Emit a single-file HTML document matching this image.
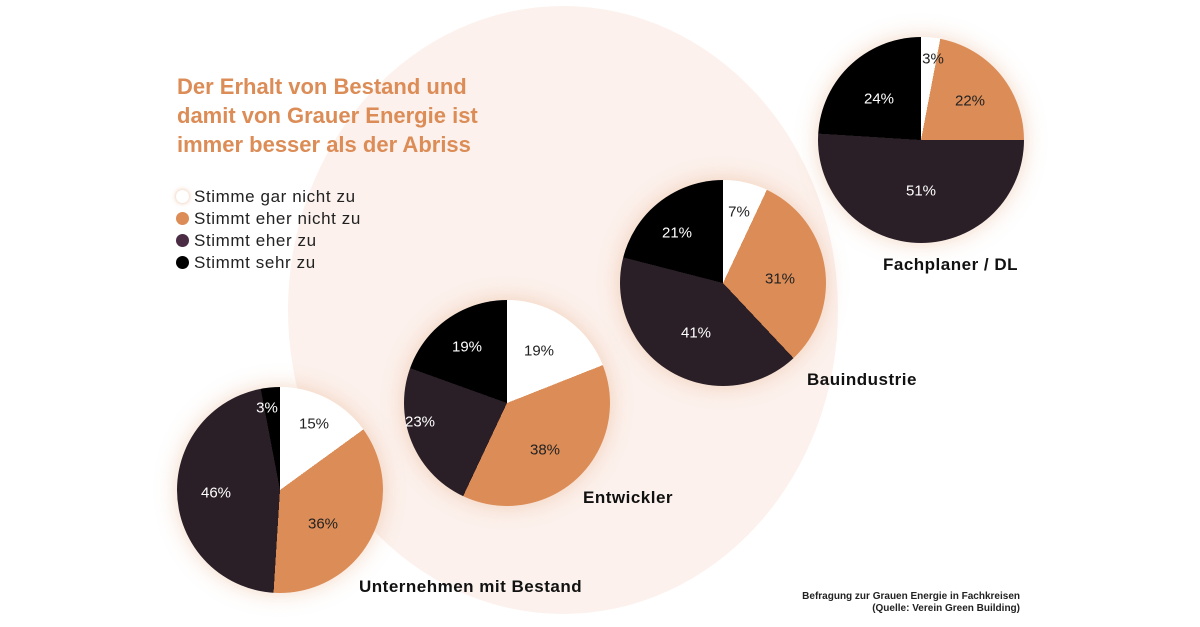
<!DOCTYPE html>
<html><head><meta charset="utf-8"><style>
body{margin:0;width:1200px;height:627px;background:#fff;position:relative;overflow:hidden;font-family:"Liberation Sans",sans-serif}
.bg{position:absolute;left:288px;top:6px;width:550px;height:608px;border-radius:50%;background:#fcf1ec}
.pie{position:absolute;width:206px;height:206px;border-radius:50%;box-shadow:0 0 22px rgba(220,140,86,.35)}
.l{position:absolute;font-size:15px;transform:translate(-50%,-50%);white-space:nowrap}
.w{color:#fff}.d{color:#222}
.t{position:absolute;font-weight:bold;font-size:17px;letter-spacing:.5px;color:#111;transform:translateY(-50%);white-space:nowrap}
h1{position:absolute;left:177px;top:72px;margin:0;font-size:22px;line-height:29px;color:#dc8c56;font-weight:bold}
.lg{position:absolute;left:176px;font-size:17px;letter-spacing:.6px;color:#222;transform:translateY(-50%)}
.lg i{display:inline-block;width:13px;height:13px;border-radius:50%;margin-right:5px;vertical-align:-1px}
.src{position:absolute;right:180px;top:591px;font-size:10px;font-weight:bold;text-align:right;line-height:12px;color:#222}
</style></head><body>
<div class="bg"></div>
<h1>Der Erhalt von Bestand und<br>damit von Grauer Energie ist<br>immer besser als der Abriss</h1>
<div class="lg" style="top:197px"><i style="background:#fff;box-shadow:0 0 5px rgba(220,140,86,.6)"></i>Stimme gar nicht zu</div>
<div class="lg" style="top:219px"><i style="background:#dc8c56"></i>Stimmt eher nicht zu</div>
<div class="lg" style="top:241px"><i style="background:#4a2c44"></i>Stimmt eher zu</div>
<div class="lg" style="top:263px"><i style="background:#000"></i>Stimmt sehr zu</div>

<div class="pie" style="left:177px;top:387px;background:conic-gradient(#fff 0 15%,#dc8c56 15% 51%,#2a1f26 51% 97%,#000 97% 100%)"></div>
<div class="pie" style="left:404px;top:300px;background:conic-gradient(#fff 0 19%,#dc8c56 19% 57%,#2a1f26 57% 80.5%,#000 80.5% 100%)"></div>
<div class="pie" style="left:620px;top:180px;background:conic-gradient(#fff 0 7%,#dc8c56 7% 38%,#2a1f26 38% 79%,#000 79% 100%)"></div>
<div class="pie" style="left:818px;top:37px;background:conic-gradient(#fff 0 3%,#dc8c56 3% 25%,#2a1f26 25% 76%,#000 76% 100%)"></div>

<div class="l d" style="left:314px;top:424px">15%</div>
<div class="l d" style="left:323px;top:524px">36%</div>
<div class="l w" style="left:216px;top:493px">46%</div>
<div class="l w" style="left:267px;top:408px">3%</div>
<div class="l d" style="left:539px;top:351px">19%</div>
<div class="l d" style="left:545px;top:450px">38%</div>
<div class="l w" style="left:420px;top:422px">23%</div>
<div class="l w" style="left:467px;top:347px">19%</div>
<div class="l d" style="left:739px;top:212px">7%</div>
<div class="l d" style="left:780px;top:279px">31%</div>
<div class="l w" style="left:696px;top:333px">41%</div>
<div class="l w" style="left:677px;top:233px">21%</div>
<div class="l d" style="left:933px;top:59px">3%</div>
<div class="l d" style="left:970px;top:101px">22%</div>
<div class="l w" style="left:921px;top:191px">51%</div>
<div class="l w" style="left:879px;top:99px">24%</div>

<div class="t" style="left:359px;top:587px">Unternehmen mit Bestand</div>
<div class="t" style="left:583px;top:498px">Entwickler</div>
<div class="t" style="left:807px;top:380px">Bauindustrie</div>
<div class="t" style="left:883px;top:265px">Fachplaner / DL</div>
<div class="src">Befragung zur Grauen Energie in Fachkreisen<br>(Quelle: Verein Green Building)</div>
</body></html>
